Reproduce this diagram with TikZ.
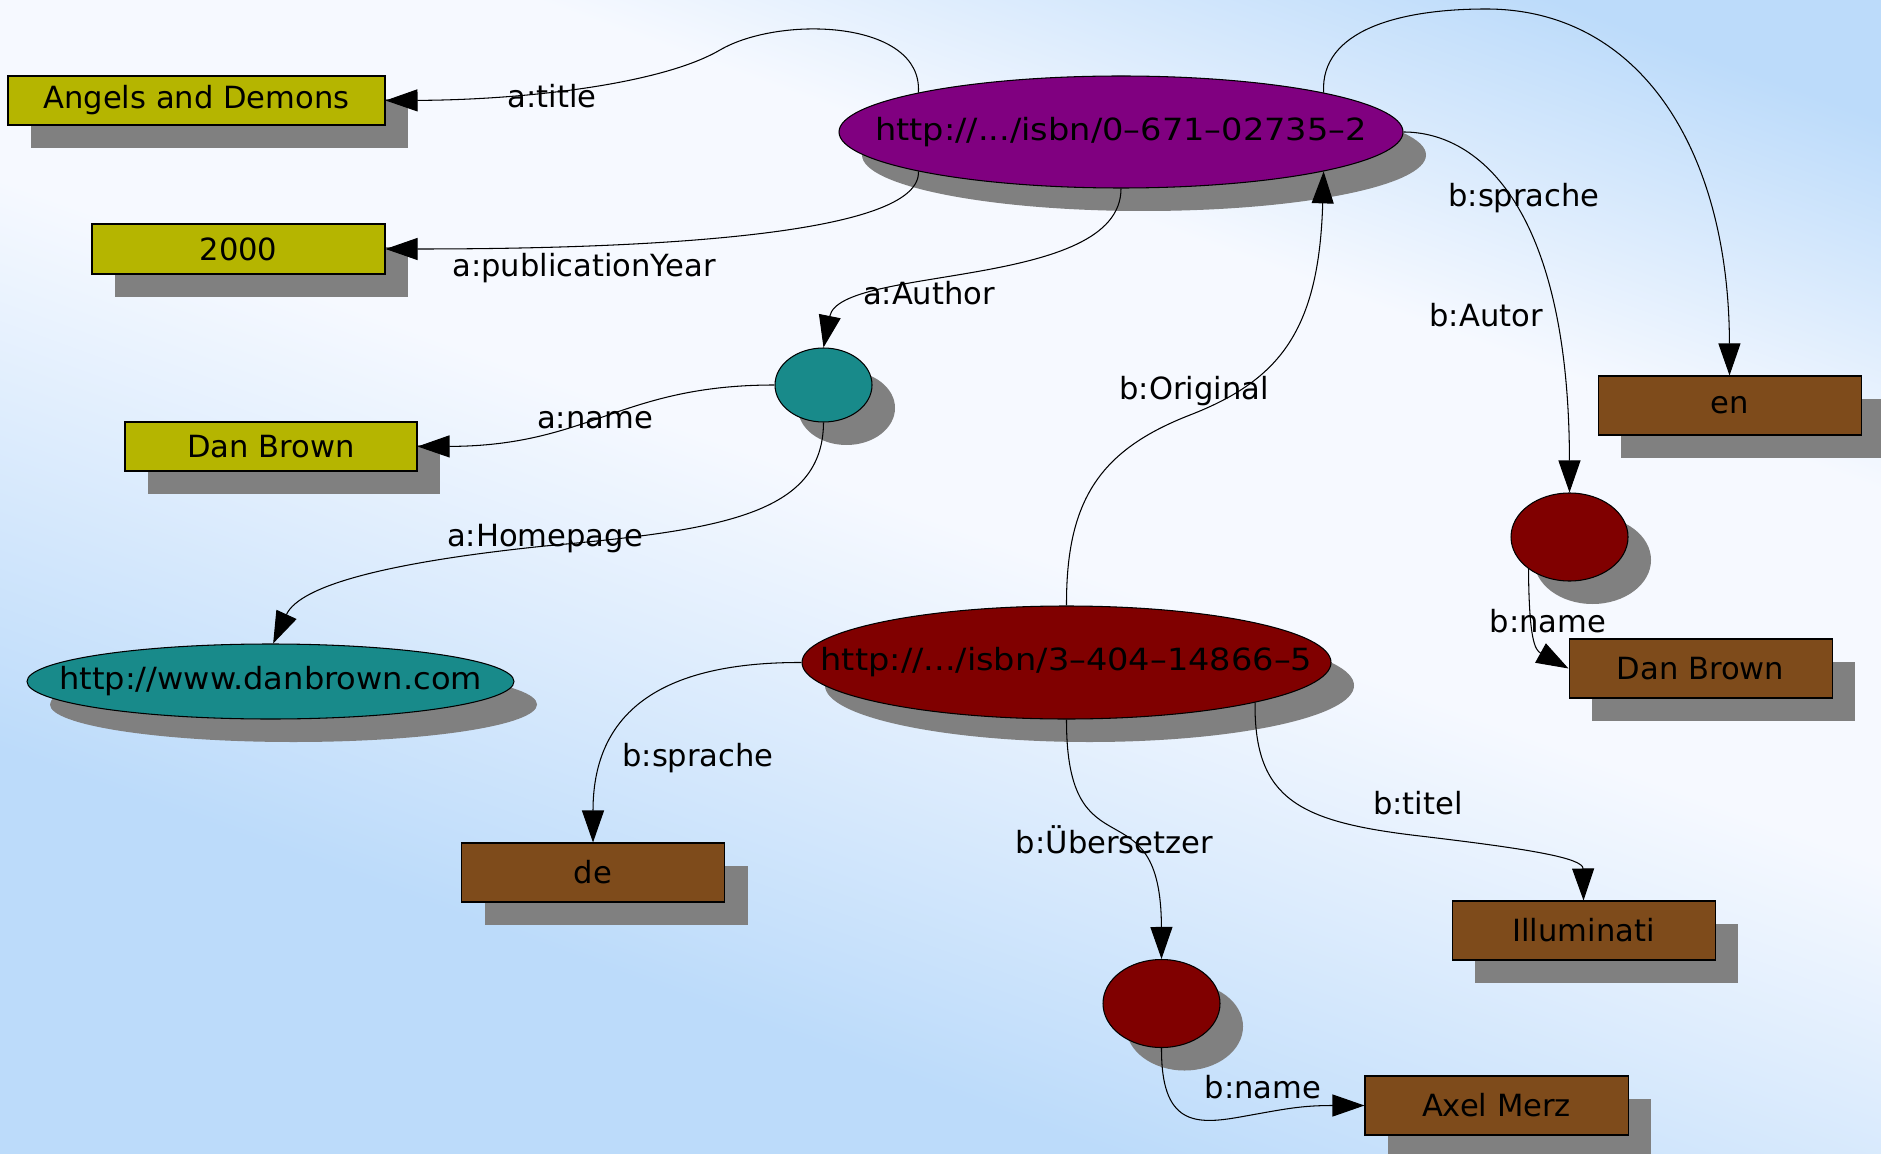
\documentclass[tikz,border=0pt]{standalone}
\usepackage{fontspec}
\usepackage{graphicx}
\setmainfont{DejaVu Sans}
\usetikzlibrary{arrows.meta,shadows,shapes.geometric}
\definecolor{bgBlue}{RGB}{188,219,250}
\definecolor{bgWhite}{RGB}{246,249,255}
\definecolor{litYellow}{RGB}{181,181,0}
\definecolor{litBrown}{RGB}{126,75,27}
\definecolor{resPurple}{RGB}{128,0,128}
\definecolor{resRed}{RGB}{128,0,0}
\definecolor{resTeal}{RGB}{24,138,138}
\pgfdeclareverticalshading{bgband}{100bp}{color(0bp)=(bgBlue); color(32bp)=(bgBlue); color(44bp)=(bgBlue!40!bgWhite); color(52bp)=(bgWhite); color(65bp)=(bgWhite); color(78bp)=(bgBlue); color(100bp)=(bgBlue)}
\newcommand{\uritext}[2][1]{\makebox[0pt]{\scalebox{#1}[1]{#2}}}

\begin{document}
\begin{tikzpicture}[x=0.1mm,y=-0.1mm,
    every node/.style={font=\fontsize{8.7}{10}\selectfont},
    shadowed/.style={drop shadow={shadow xshift=2.3mm,shadow yshift=-2.3mm,fill=black!50,opacity=1}},
    litbox/.style={rectangle, draw, line width=0.3pt, inner sep=0pt, shadowed, minimum width=26.3mm, minimum height=5.9mm, fill=litBrown},
    litA/.style={litbox, fill=litYellow, minimum height=4.9mm},
    resource/.style={ellipse, draw, line width=0.3pt, inner sep=0pt, shadowed},
    blank/.style={ellipse, draw, line width=0.3pt, inner sep=0pt, shadowed, minimum width=11.7mm, minimum height=8.8mm, fill=resRed},
    lbl/.style={inner sep=0pt, anchor=base},
    rel/.style={line width=0.3pt, -{Triangle[length=3.2mm,width=2.2mm]}}]
   \useasboundingbox (0,0) rectangle (1881,1154);
   \shade[shading=bgband, shading angle=-20] (0,0) rectangle (1881,1154);

   % book a
   \node[resource, fill=resPurple, minimum width=56.4mm, minimum height=11.2mm] (isbnA) at (1121,132) {\uritext[1.1]{http://.../isbn/0–671–02735–2}};
   \node[litA, minimum width=37.7mm] (titleA) at (196.5,100.5) {Angels and Demons};
   \node[litA, minimum width=29.3mm, minimum height=5mm] (yearA) at (238.5,249) {2000};
   \node[blank, fill=resTeal, minimum width=9.7mm, minimum height=7.4mm] (authorA) at (823.5,385) {};
   \node[litA, minimum width=29.2mm] (nameA) at (271,446.5) {Dan Brown};
   \node[resource, fill=resTeal, minimum width=48.7mm, minimum height=7.5mm] (homeA) at (270.5,681.5) {\uritext[1.05]{http://www.danbrown.com}};

   % book b
   \node[resource, fill=resRed, minimum width=52.9mm, minimum height=11.3mm] (isbnB) at (1066.5,662.5) {\uritext[1.1]{http://.../isbn/3–404–14866–5}};
   \node[litbox] (langA) at (1729.5,405.5) {en};
   \node[blank] (authorB) at (1569.5,537) {};
   \node[litbox] (nameB) at (1700.5,668.5) {Dan Brown};
   \node[litbox] (langB) at (593,872.5) {de};
   \node[litbox] (titleB) at (1583.5,930.5) {Illuminati};
   \node[blank] (transB) at (1161.5,1003.5) {};
   \node[litbox] (transName) at (1496.5,1105.5) {Axel Merz};

   \draw[rel] (isbnA.169) .. controls (923,20) and (780,15) .. (720,50) .. controls (660,85) and (520,100) .. (titleA.east);
   \draw[rel] (isbnA.191) .. controls (922,235) and (650,249) .. (yearA.east);
   \draw[rel] (isbnA.south) .. controls (1121,290) and (840,265) .. (authorA.north);
   \draw[rel] (authorA.west) .. controls (620,385) and (590,446) .. (nameA.east);
   \draw[rel] (authorA.south) .. controls (823,515) and (720,530) .. (545,546) .. controls (390,562) and (300,585) .. (homeA.86);
   \draw[rel] (isbnA.11) .. controls (1320,30) and (1400,9) .. (1486,9) .. controls (1640,9) and (1729,150) .. (langA.north);
   \draw[rel] (isbnA.east) .. controls (1480,132) and (1569,210) .. (authorB.north);
   \draw[rel] (authorB.218) .. controls (1529,640) and (1535,650) .. (nameB.west);
   \draw[rel] (isbnB.north) .. controls (1066,500) and (1100,450) .. (1190,415) .. controls (1280,380) and (1319,330) .. (isbnA.-11);
   \draw[rel] (isbnB.west) .. controls (650,662) and (593,720) .. (langB.north);
   \draw[rel] (isbnB.south) .. controls (1066,880) and (1161,780) .. (transB.north);
   \draw[rel] (isbnB.-12) .. controls (1254,800) and (1300,822) .. (1420,836) .. controls (1530,849) and (1583,858) .. (titleB.north);
   \draw[rel] (transB.south) .. controls (1161,1125) and (1195,1125) .. (1240,1117) .. controls (1285,1109) and (1300,1105.5) .. (transName.west);

   % edge labels
   \node[lbl] (lTitle) at (552,108) {a:title};
   \node[lbl] (lYear) at (584,277) {a:publicationYear};
   \node[lbl] (lAuthor) at (929,305) {a:Author};
   \node[lbl] (lNameA) at (595,429) {a:name};
   \node[lbl] (lHome) at (545,546) {a:Homepage};
   \node[lbl] (lLangA) at (1524,207) {b:sprache};
   \node[lbl] (lAuthorB) at (1486,327) {b:Autor};
   \node[lbl] (lOrig) at (1194,400) {b:Original};
   \node[lbl] (lNameB) at (1548,632) {b:name};
   \node[lbl] (lLangB) at (698,766) {b:sprache};
   \node[lbl] (lTitleB) at (1418,814) {b:titel};
   \node[lbl] (lTrans) at (1114.5,853) {b:Übersetzer};
   \node[lbl] (lTransName) at (1263,1098) {b:name};
 \end{tikzpicture}
\end{document}
